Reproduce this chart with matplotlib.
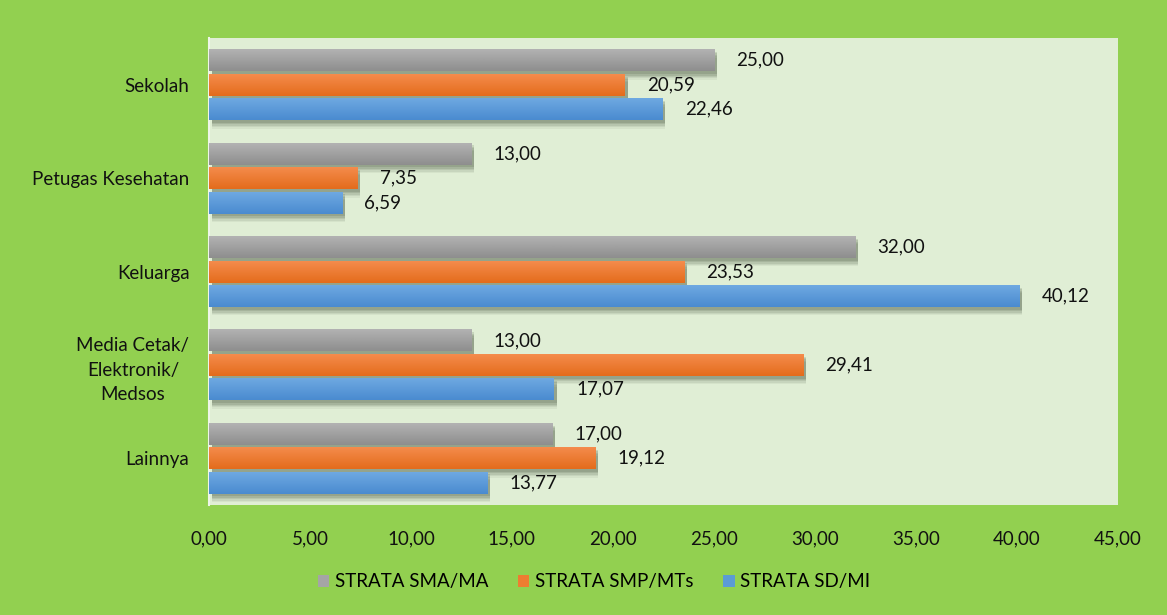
import matplotlib
matplotlib.use("Agg")
import matplotlib.pyplot as plt
import matplotlib.patheffects as pe
import numpy as np
from matplotlib.colors import LinearSegmentedColormap
from matplotlib.patches import Patch

categories = ["Sekolah", "Petugas Kesehatan", "Keluarga", "Media Cetak/\nElektronik/\nMedsos", "Lainnya"]
series_names = ["STRATA SMA/MA", "STRATA SMP/MTs", "STRATA SD/MI"]
sma = [25.00, 13.00, 32.00, 13.00, 17.00]
smp = [20.59, 7.35, 23.53, 29.41, 19.12]
sd = [22.46, 6.59, 40.12, 17.07, 13.77]
xticks = [0, 5, 10, 15, 20, 25, 30, 35, 40, 45]

series = [sma, smp, sd]
base_colors = ["#A5A5A5", "#ED7D31", "#5B9BD5"]
grad = [("#B4B4B4", "#8E8E8E"), ("#F58D4E", "#E46C1C"), ("#70AAE2", "#4A8BD0")]

plt.rcParams['font.family'] = ['Lato', 'DejaVu Sans']
FS = 13.5

fig = plt.figure(figsize=(11.67, 6.15), dpi=100)
fig.patch.set_facecolor("#92D050")
ax = fig.add_axes([0.179, 0.179, 0.779, 0.759])
ax.set_facecolor("#E0EED5")

n = len(categories)
y = np.arange(n)
step = 0.262
h = 0.236
shadow = [pe.SimplePatchShadow(offset=(2, -o), shadow_rgbFace="#2f3d28", alpha=a)
          for o, a in [(6, 0.06), (5, 0.08), (4, 0.1), (3, 0.12), (2, 0.14)]]
for si, (vals, col, (c1, c2)) in enumerate(zip(series, base_colors, grad)):
    offs = (si - 1) * step
    cmap = LinearSegmentedColormap.from_list("g%d" % si, [c1, c2])
    for i, v in enumerate(vals):
        yc = y[i] + offs
        bars = ax.barh(yc, v, height=h, color=col, zorder=2,
                       path_effects=shadow + [pe.Normal()])
        patch = bars[0]
        im = ax.imshow(np.linspace(0, 1, 50).reshape(-1, 1), cmap=cmap, aspect="auto",
                       extent=(0, v, yc + h / 2, yc - h / 2), origin="upper", zorder=3)
        im.set_clip_path(patch)
        ax.text(v + 1.1, yc, f"{v:.2f}".replace(".", ","), va="center", ha="left",
                fontsize=FS, color="#111111", zorder=4)

ax.set_ylim(n - 0.5, -0.5)
ax.set_xlim(0, 45)
ax.set_yticks(y)
ax.set_yticklabels(categories, multialignment="center", fontsize=FS, linespacing=1.55)
ax.set_xticks(xticks)
ax.set_xticklabels([f"{t:.2f}".replace(".", ",") for t in xticks], fontsize=FS)
ax.tick_params(axis="both", length=0, colors="#111111")
ax.tick_params(axis="y", pad=14)
ax.tick_params(axis="x", pad=18)
for s in ["top", "right", "bottom"]:
    ax.spines[s].set_visible(False)
ax.spines["left"].set_color("#EEF5E8")
ax.spines["left"].set_linewidth(1.5)

handles = [Patch(facecolor=c, edgecolor="none") for c in base_colors]
fig.legend(handles, series_names, loc="center", bbox_to_anchor=(0.509, 0.054), ncol=3,
           frameon=False, fontsize=FS, handlelength=0.6, handleheight=0.6,
           handletextpad=0.3, columnspacing=1.6)

fig.savefig("out.png", dpi=100, facecolor=fig.get_facecolor())
